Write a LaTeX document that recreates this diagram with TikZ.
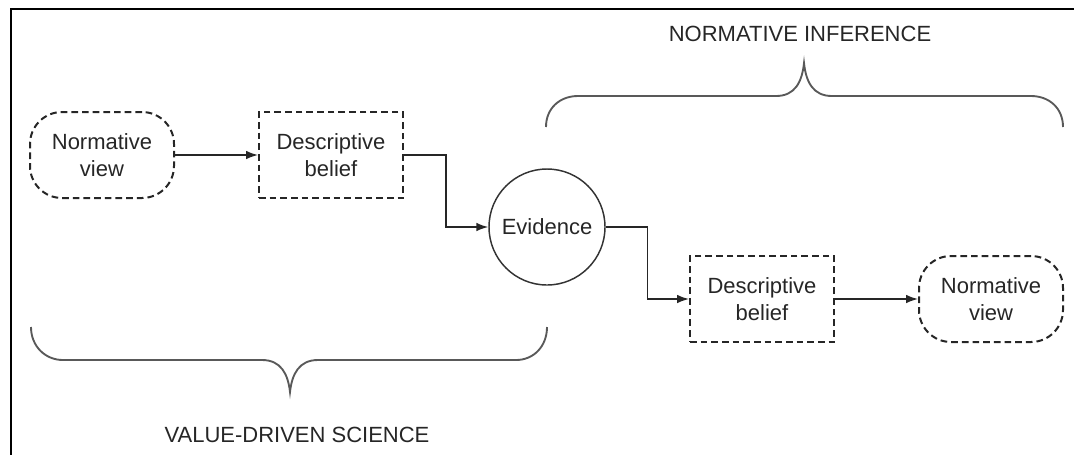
\documentclass[tikz,border=0pt]{standalone}
\usepackage{fontspec}
\setmainfont{Liberation Sans}
\usetikzlibrary{arrows.meta, calc}

\begin{document}
\begin{tikzpicture}[x=0.75pt, y=-0.75pt,
    every node/.style={font=\fontsize{16.5}{20}\selectfont, text=black!85, align=center, inner sep=0pt},
    belief/.style={draw=black!85, dash pattern=on 5pt off 3pt, line width=1.5pt, minimum width=108pt, minimum height=64.5pt},
    view/.style={belief, rounded corners=24pt},
    fact/.style={circle, draw=black!80, line width=1.1pt, minimum size=87pt},
    link/.style={draw=black!85, line width=1.1pt, -{Latex[length=9pt, width=6.5pt]}},
    brace/.style={draw=black!65, line width=1.4pt}]
    \useasboundingbox (0,0) rectangle (1074,455);
    % frame
    \draw[line width=2.2pt] (1074,9) -| (11,455);

    % first row
    \node[view] (nv1) at (102,155) {Normative\\view};
    \node[belief] (db1) at (331,155) {Descriptive\\belief};
    \node[fact] (ev) at (547,227) {Evidence};
    % second row
    \node[belief] (db2) at (762,299) {Descriptive\\belief};
    \node[view] (nv2) at (991,299) {Normative\\view};

    \draw[link] (nv1) -- (db1);
    \draw[link] (db1.east) -- ++(42,0) |- (ev.west);
    \draw[link] (ev.east) -- ++(42,0) |- (db2.west);
    \draw[link] (db2) -- (nv2);

    % braces
    \draw[brace] (546,127) .. controls (546,108) and (560,96) .. (578,96) -- (776,96)
        .. controls (795,96) and (802,82) .. (804,63)
        .. controls (806,82) and (813,96) .. (832,96) -- (1031,96)
        .. controls (1049,96) and (1063,108) .. (1063,127);
    \draw[brace] (31,327) .. controls (31,346) and (45,360) .. (63,360) -- (262,360)
        .. controls (281,360) and (288,374) .. (290,392)
        .. controls (292,374) and (299,360) .. (318,360) -- (516,360)
        .. controls (534,360) and (547,346) .. (547,327);

    \node (inf) at (800,34) {NORMATIVE INFERENCE};
    \node (sci) at (297,435) {VALUE-DRIVEN SCIENCE};
\end{tikzpicture}
\end{document}
